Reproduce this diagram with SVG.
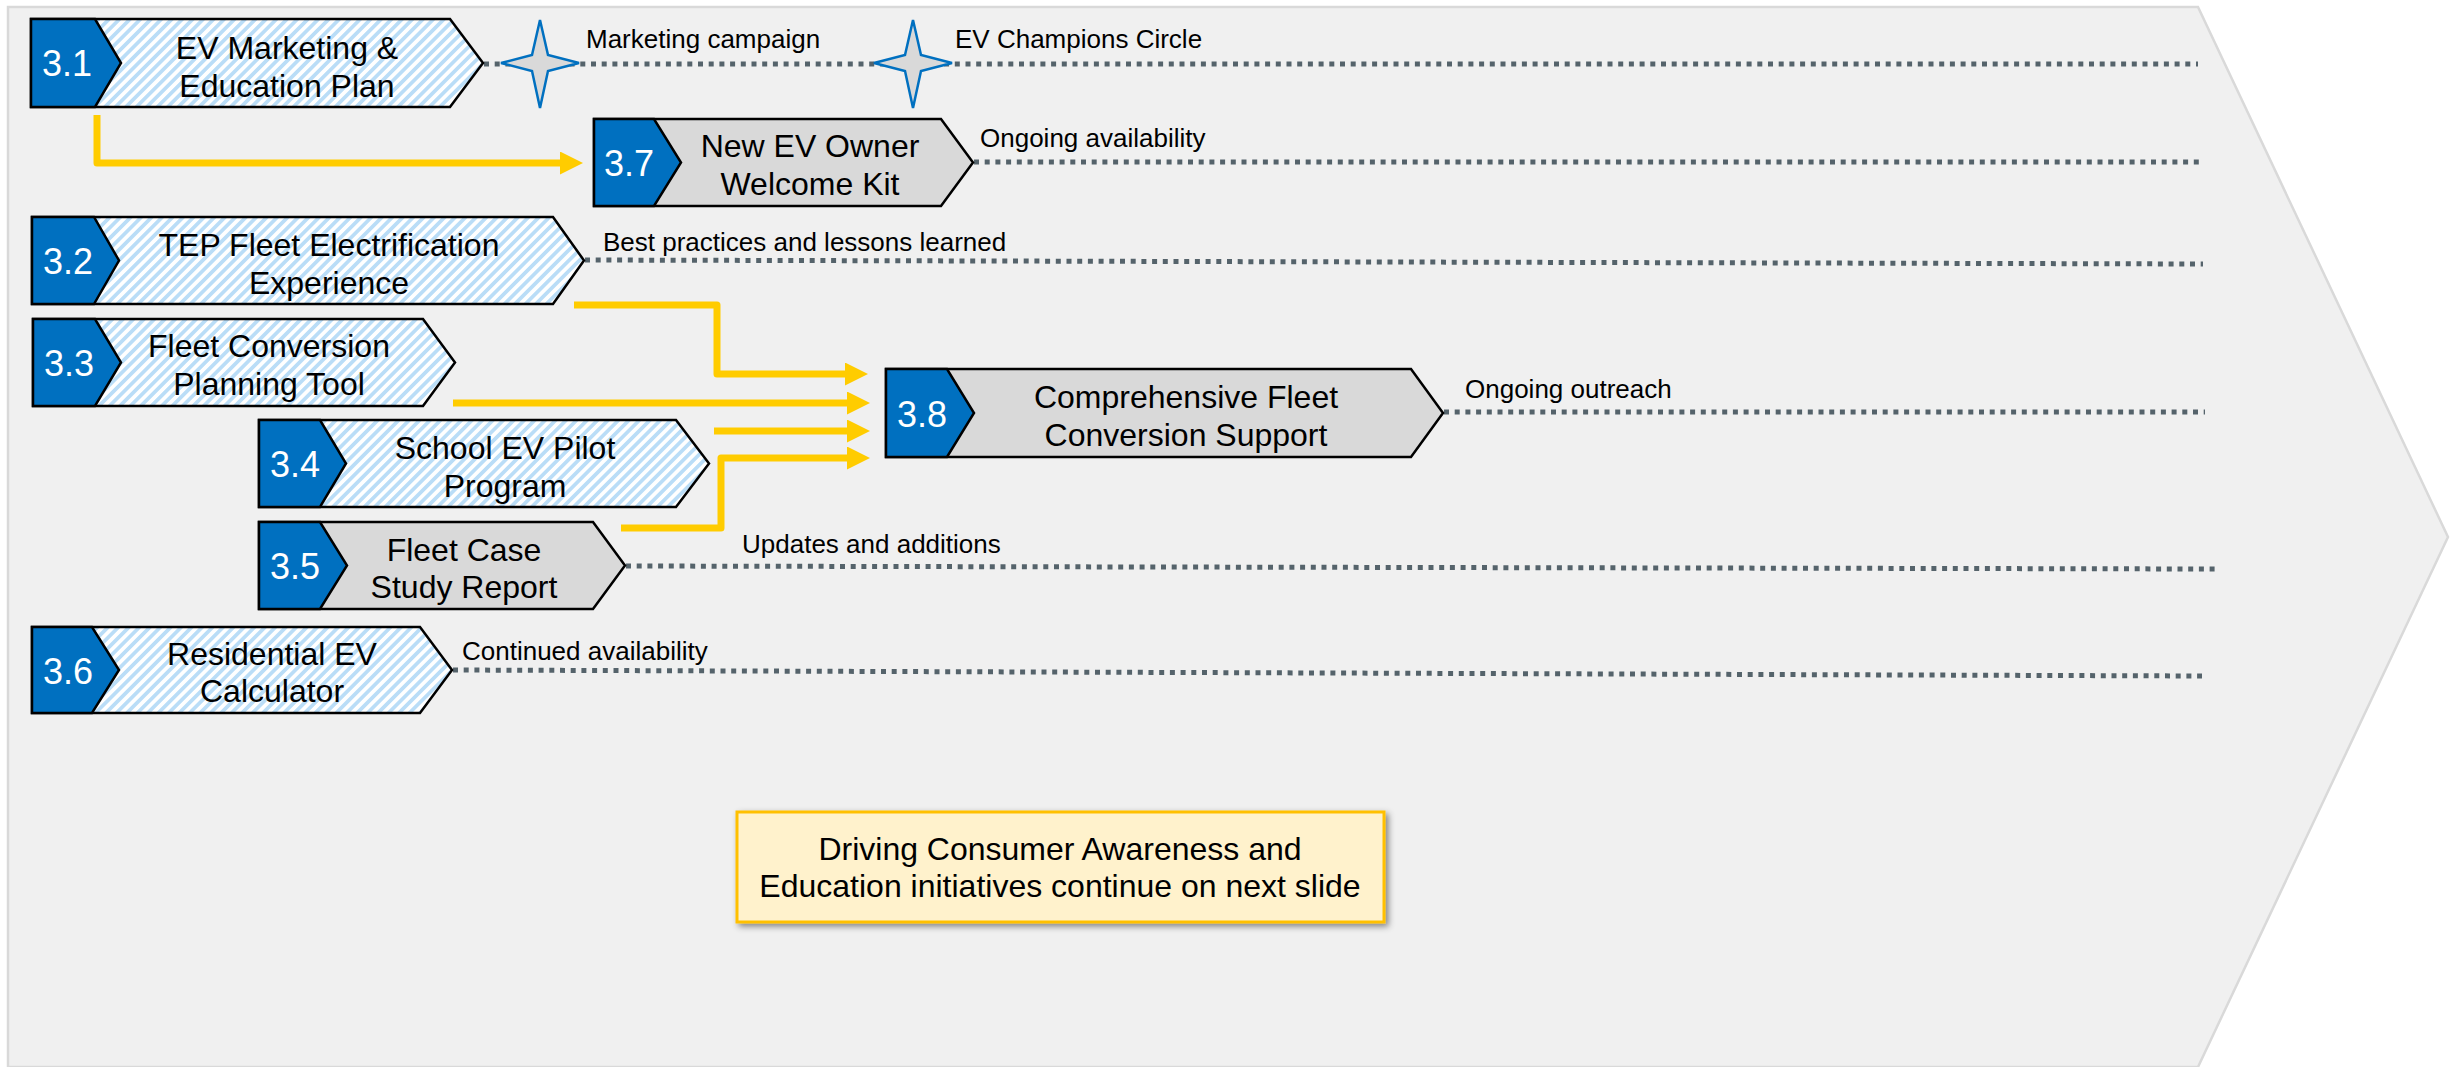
<svg xmlns="http://www.w3.org/2000/svg" width="2450" height="1067" viewBox="0 0 2450 1067">
<style>
.bg{fill:#F0F0F0;stroke:#D9D9D9;stroke-width:2.5}
.hatch{fill:url(#hatch);stroke:#000;stroke-width:2.5}
.grey{fill:#D9D9D9;stroke:#000;stroke-width:2.5}
.blue{fill:#0070C0;stroke:#000;stroke-width:2.5}
.title{font-family:"Liberation Sans",Arial,sans-serif;font-size:32px;fill:#000;text-anchor:middle}
.num{font-family:"Liberation Sans",Arial,sans-serif;font-size:36px;fill:#fff;text-anchor:middle}
.lbl{font-family:"Liberation Sans",Arial,sans-serif;font-size:26px;fill:#000}
.dash{fill:none;stroke:#55636B;stroke-width:5;stroke-dasharray:5 5.7}
.arrow{fill:none;stroke:#FFCC00;stroke-width:7;stroke-linejoin:round;marker-end:url(#ah)}
.star{fill:#D9D9D9;stroke:#0070C0;stroke-width:2.5}
.note{fill:#FFF2CC;stroke:#FFC000;stroke-width:3;filter:url(#shadow)}
</style>
<defs>
<pattern id="hatch" patternUnits="userSpaceOnUse" width="7.4" height="10" patternTransform="rotate(45)">
<rect width="7.4" height="10" fill="#FFFFFF"/>
<rect width="3.7" height="10" fill="#BADDF7"/>
</pattern>
<marker id="ah" markerUnits="userSpaceOnUse" markerWidth="24" markerHeight="24" refX="0" refY="11.5" orient="auto">
<path d="M0,0 L23,11.5 L0,23 Z" fill="#FFCC00"/>
</marker>
<filter id="shadow" x="-10%" y="-20%" width="120%" height="150%">
<feDropShadow dx="3" dy="3" stdDeviation="3" flood-color="#000" flood-opacity="0.45"/>
</filter>
</defs>

<polygon class="bg" points="8,7 2198,7 2448,537 2198,1067 8,1067"/>

<g id="timelines">
<path class="dash" d="M484,64 H2198"/>
<path class="dash" d="M974,162 H2199"/>
<path class="dash" d="M585,260 L2203,264"/>
<path class="dash" d="M1444,412 H2205"/>
<path class="dash" d="M626,566 L2216,569"/>
<path class="dash" d="M453,670 L2202,676"/>
</g>

<g id="connectors">
<path class="arrow" d="M97,115 V163 H560"/>
<path class="arrow" d="M574,305 H717 V374 H845"/>
<path class="arrow" d="M453,403 H847"/>
<path class="arrow" d="M714,431 H847"/>
<path class="arrow" d="M621,528 H721 V458 H847"/>
</g>

<g id="milestones">
<polygon class="star" points="540,20 548,55 579,63 548,71 540,108 532,71 501,63 532,55"/>
<polygon class="star" points="913,20 921,55 952,63 921,71 913,108 905,71 874,63 905,55"/>
<text class="lbl" x="586" y="48">Marketing campaign</text>
<text class="lbl" x="955" y="48">EV Champions Circle</text>
<text class="lbl" x="980" y="147">Ongoing availability</text>
<text class="lbl" x="603" y="251">Best practices and lessons learned</text>
<text class="lbl" x="1465" y="398">Ongoing outreach</text>
<text class="lbl" x="742" y="553">Updates and additions</text>
<text class="lbl" x="462" y="660">Continued availability</text>
</g>

<g id="node-3-1">
<polygon class="hatch" points="31,19 450,19 483,63 450,107 31,107"/>
<polygon class="blue" points="31,19 95,19 121,63 95,107 31,107"/>
<text class="num" x="67" y="76">3.1</text>
<text class="title" x="287" y="59">EV Marketing &amp;</text>
<text class="title" x="287" y="97">Education Plan</text>
</g>

<g id="node-3-7">
<polygon class="grey" points="594,119 941,119 973,162.5 941,206 594,206"/>
<polygon class="blue" points="594,119 654,119 681,162.5 654,206 594,206"/>
<text class="num" x="629" y="176">3.7</text>
<text class="title" x="810" y="157">New EV Owner</text>
<text class="title" x="810" y="195">Welcome Kit</text>
</g>

<g id="node-3-2">
<polygon class="hatch" points="32,217 553,217 584,260.5 553,304 32,304"/>
<polygon class="blue" points="32,217 94,217 119,260.5 94,304 32,304"/>
<text class="num" x="68" y="274">3.2</text>
<text class="title" x="329" y="256">TEP Fleet Electrification</text>
<text class="title" x="329" y="294">Experience</text>
</g>

<g id="node-3-3">
<polygon class="hatch" points="33,319 423,319 455,362.5 423,406 33,406"/>
<polygon class="blue" points="33,319 95,319 121,362.5 95,406 33,406"/>
<text class="num" x="69" y="376">3.3</text>
<text class="title" x="269" y="357">Fleet Conversion</text>
<text class="title" x="269" y="395">Planning Tool</text>
</g>

<g id="node-3-4">
<polygon class="hatch" points="259,420 676,420 709,463.5 676,507 259,507"/>
<polygon class="blue" points="259,420 320,420 346,463.5 320,507 259,507"/>
<text class="num" x="295" y="477">3.4</text>
<text class="title" x="505" y="459">School EV Pilot</text>
<text class="title" x="505" y="497">Program</text>
</g>

<g id="node-3-5">
<polygon class="grey" points="259,522 593,522 625,565.5 593,609 259,609"/>
<polygon class="blue" points="259,522 320,522 347,565.5 320,609 259,609"/>
<text class="num" x="295" y="579">3.5</text>
<text class="title" x="464" y="561">Fleet Case</text>
<text class="title" x="464" y="598">Study Report</text>
</g>

<g id="node-3-6">
<polygon class="hatch" points="32,627 420,627 452,670 420,713 32,713"/>
<polygon class="blue" points="32,627 92,627 119,670 92,713 32,713"/>
<text class="num" x="68" y="684">3.6</text>
<text class="title" x="272" y="665">Residential EV</text>
<text class="title" x="272" y="702">Calculator</text>
</g>

<g id="node-3-8">
<polygon class="grey" points="886,369 1411,369 1443,413 1411,457 886,457"/>
<polygon class="blue" points="886,369 947,369 974,413 947,457 886,457"/>
<text class="num" x="922" y="427">3.8</text>
<text class="title" x="1186" y="408">Comprehensive Fleet</text>
<text class="title" x="1186" y="446">Conversion Support</text>
</g>

<g id="note">
<rect class="note" x="737" y="812" width="647" height="110"/>
<text class="title" x="1060" y="860">Driving Consumer Awareness and</text>
<text class="title" x="1060" y="897">Education initiatives continue on next slide</text>
</g>
</svg>
